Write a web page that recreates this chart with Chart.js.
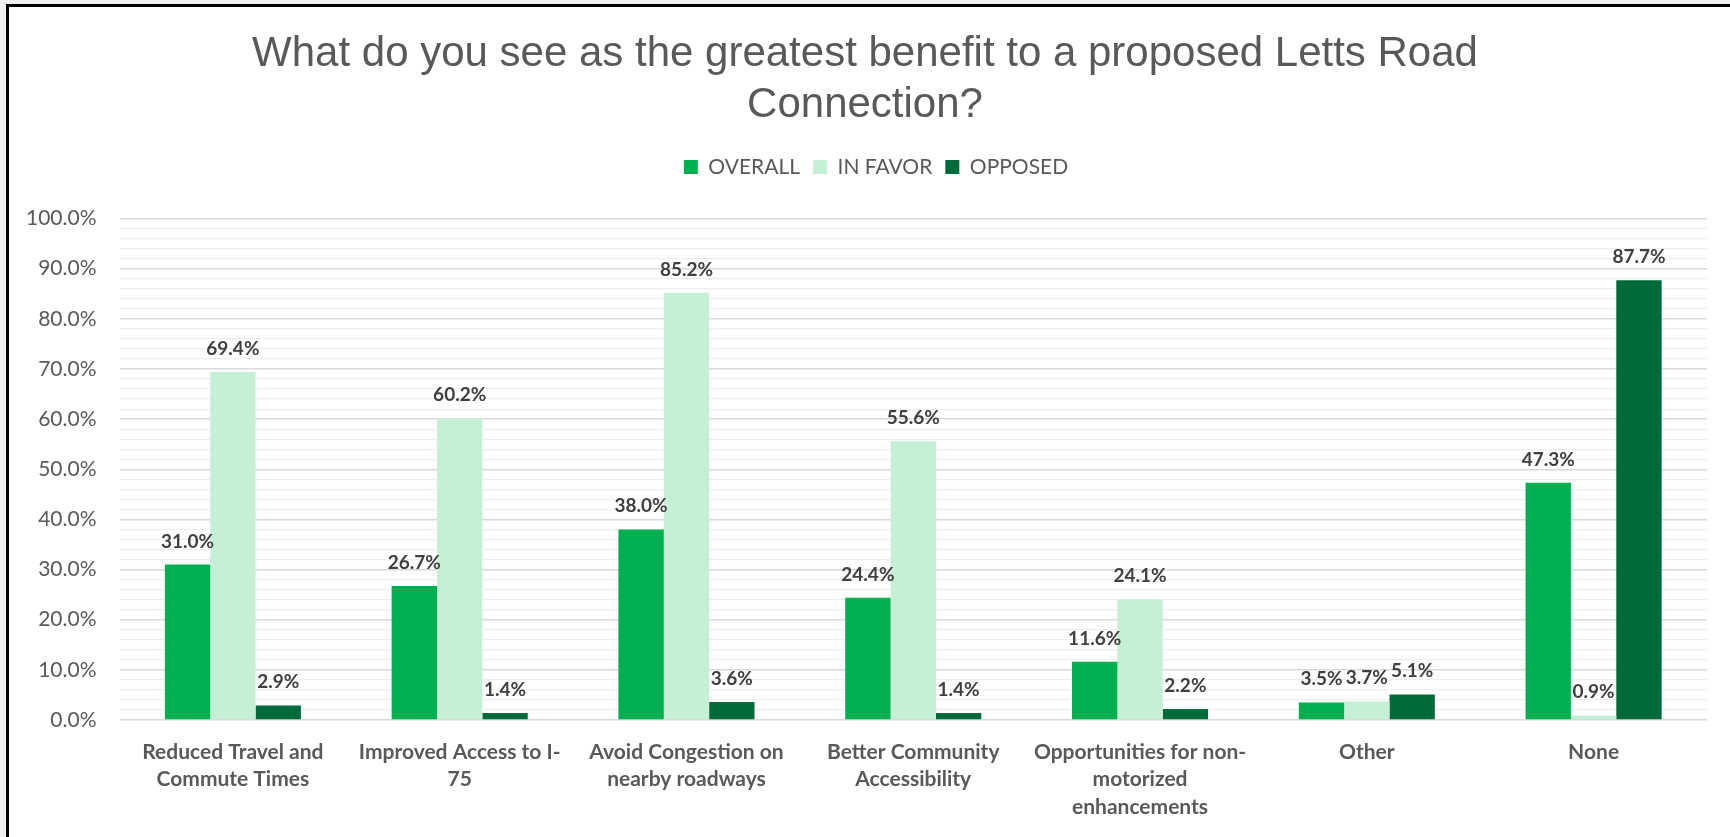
<!DOCTYPE html>
<html>
<head>
<meta charset="utf-8">
<title>Letts Road Connection survey</title>
<script src="https://cdn.jsdelivr.net/npm/chart.js@4.4.1/dist/chart.umd.min.js"></script>
<style>
  html, body { margin: 0; padding: 0; background: #f0f0f0; overflow: hidden; }
  .frame {
    position: absolute; left: 6px; top: 4px; width: 1740px; height: 850px;
    border-left: 3px solid #000; border-top: 3px solid #000; background: #fff;
  }
  #grafica { position: absolute; left: 0; top: 0; }
</style>
</head>
<body>
<div class="frame"></div>
<canvas id="grafica" width="1730" height="837"></canvas>
<script>
// survey answers, percent of respondents
var categorias = [
    ["Reduced Travel and", "Commute Times"],
    ["Improved Access to I-", "75"],
    ["Avoid Congestion on", "nearby roadways"],
    ["Better Community", "Accessibility"],
    ["Opportunities for non-", "motorized", "enhancements"],
    "Other",
    "None"
];
var overall = [31.0, 26.7, 38.0, 24.4, 11.6, 3.5, 47.3];
var inFavor = [69.4, 60.2, 85.2, 55.6, 24.1, 3.7, 0.9];
var opposed = [2.9, 1.4, 3.6, 1.4, 2.2, 5.1, 87.7];
var tituloLineas = ["What do you see as the greatest benefit to a proposed Letts Road", "Connection?"];

// value labels above each bar
var etiquetas = {
    id: 'etiquetas',
    afterDatasetsDraw: function(chart) {
        var ctx = chart.ctx;
        ctx.save();
        ctx.font = 'bold 19px Lato';
        ctx.fillStyle = '#404040';
        ctx.textAlign = 'center';
        ctx.textBaseline = 'alphabetic';
        chart.data.datasets.forEach(function(ds, i) {
            chart.getDatasetMeta(i).data.forEach(function(bar, j) {
                ctx.fillText(ds.data[j].toFixed(1) + '%', bar.x, bar.y - 17);
            });
        });
        ctx.restore();
    }
};

// nudge the legend a little to the right of the title's centre
var moverLeyenda = {
    id: 'moverLeyenda',
    afterLayout: function(chart) {
        if (chart.legend) {
            chart.legend.left += 11;
            chart.legend.right += 11;
        }
    }
};

function esMayor(v) {
    return Math.round(v) % 10 === 0;
}

var ctx = document.getElementById("grafica").getContext('2d');
var grafica = new Chart(ctx, {
    type: "bar",
    data: {
        labels: categorias,
        datasets: [
            { label: "OVERALL", data: overall, backgroundColor: "#00B050" },
            { label: "IN FAVOR", data: inFavor, backgroundColor: "#C6F0D6" },
            { label: "OPPOSED", data: opposed, backgroundColor: "#006B3A" }
        ]
    },
    plugins: [etiquetas, moverLeyenda],
    options: {
        responsive: false,
        animation: false,
        layout: { padding: { top: 0, right: 23, bottom: 0, left: 23 } },
        datasets: { bar: { categoryPercentage: 0.6, barPercentage: 1.0 } },
        plugins: {
            tooltip: { enabled: false },
            title: {
                display: true,
                text: tituloLineas,
                color: '#595959',
                font: { family: 'Liberation Sans', size: 42, weight: 'normal', lineHeight: 1.22 },
                padding: { top: 28.5, bottom: 12.6 }
            },
            legend: {
                display: true,
                labels: {
                    color: '#595959',
                    font: { family: 'Lato', size: 21 },
                    boxWidth: 14,
                    boxHeight: 14,
                    padding: 13
                }
            }
        },
        scales: {
            // empty band between the legend and the plot
            arriba: {
                type: 'category',
                position: 'top',
                grid: { display: false },
                border: { display: false },
                ticks: { display: false },
                afterFit: function(scale) { scale.height = 31; }
            },
            x: {
                grid: { display: false },
                border: { display: false },
                ticks: {
                    color: '#595959',
                    font: { family: 'Lato', size: 21, weight: 'bold', lineHeight: 1.31 },
                    autoSkip: false,
                    maxRotation: 0,
                    padding: 10
                },
                afterFit: function(scale) { scale.height = 117; }
            },
            y: {
                min: 0,
                max: 100,
                border: { display: false },
                grid: {
                    drawTicks: false,
                    color: function(c) { return esMayor(c.tick.value) ? '#d9d9d9' : '#eeeeee'; },
                    lineWidth: function(c) { return esMayor(c.tick.value) ? 1.5 : 1.2; }
                },
                ticks: {
                    stepSize: 2,
                    autoSkip: false,
                    color: '#595959',
                    font: { family: 'Lato', size: 21 },
                    padding: 23,
                    callback: function(v) {
                        return esMayor(v) ? Number(v).toFixed(1) + '%' : '';
                    }
                },
                afterFit: function(scale) { scale.width = 96.5; }
            }
        }
    }
});
</script>
</body>
</html>
